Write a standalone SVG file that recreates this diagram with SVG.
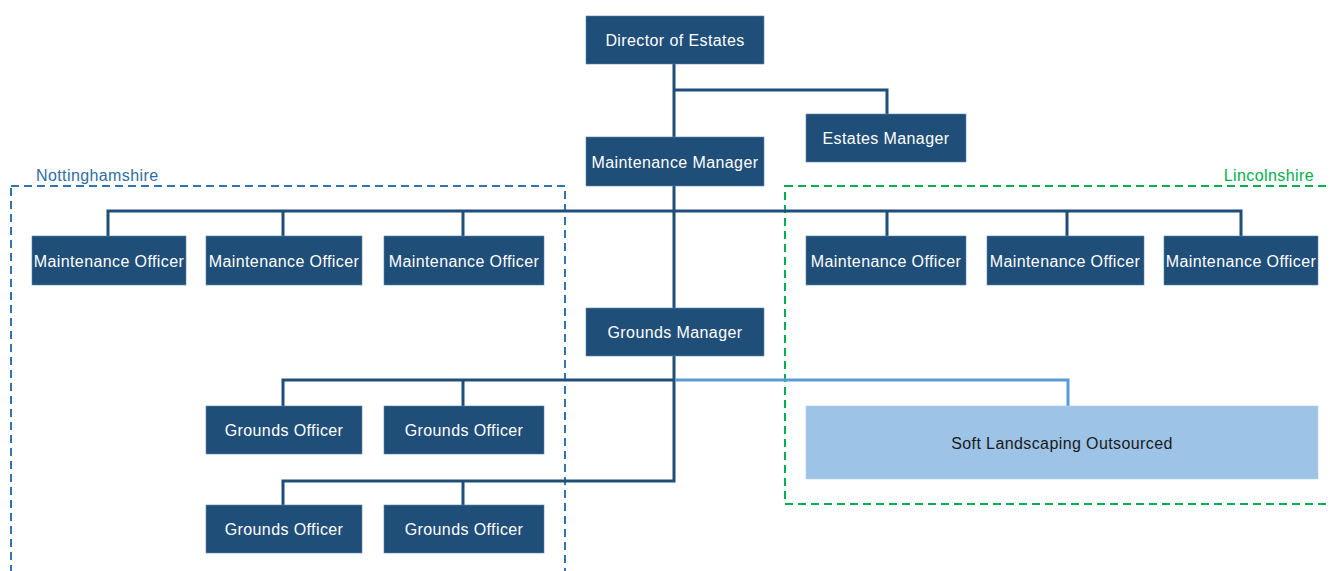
<svg xmlns="http://www.w3.org/2000/svg" width="1330" height="571" viewBox="0 0 1330 571">
<style>
.n{fill:#1f4e79;stroke:#5b87b5;stroke-width:0.6}
.t{font-family:"Liberation Sans",Arial,sans-serif;font-size:16px;letter-spacing:0.4px;fill:#ffffff;text-anchor:middle;dominant-baseline:central}
.c{fill:none;stroke:#1f4e79;stroke-width:3}
.cl{fill:none;stroke:#5b9bd5;stroke-width:3}
.lab{font-family:"Liberation Sans",Arial,sans-serif;font-size:16px;letter-spacing:0.4px}
</style>
<rect width="1330" height="571" fill="#ffffff"/>
<g id="regions">
<rect x="11" y="186" width="554" height="400" fill="none" stroke="#2e75b6" stroke-width="2" stroke-dasharray="8,5"/>
<text class="lab" x="36" y="181" fill="#2e6da4">Nottinghamshire</text>
<rect x="785" y="186" width="560" height="318" fill="none" stroke="#00b050" stroke-width="2" stroke-dasharray="8,5"/>
<text class="lab" x="1314" y="181" fill="#00b050" text-anchor="end">Lincolnshire</text>
</g>
<g id="connectors">
<path class="c" d="M674 64V137M674 90H887V114M674 186V308M108 236V211H1241V236M283 211V236M463 211V236M887 211V236M1067 211V236"/>
<path class="c" d="M674 356V481H283V505M463 481V505M674 380H283V406M463 380V406"/>
<path class="cl" d="M675 380H1068V406"/>
</g>
<g id="director"><rect class="n" x="586" y="16" width="178" height="48"/><text class="t" x="675" y="40">Director of Estates</text></g>
<g id="estates-manager"><rect class="n" x="806" y="114" width="160" height="48"/><text class="t" x="886" y="138">Estates Manager</text></g>
<g id="maintenance-manager"><rect class="n" x="586" y="137" width="178" height="49"/><text class="t" x="675" y="162">Maintenance Manager</text></g>
<g id="mo1"><rect class="n" x="32" y="236" width="154" height="49"/><text class="t" x="109" y="261">Maintenance Officer</text></g>
<g id="mo2"><rect class="n" x="206" y="236" width="156" height="49"/><text class="t" x="284" y="261">Maintenance Officer</text></g>
<g id="mo3"><rect class="n" x="384" y="236" width="160" height="49"/><text class="t" x="464" y="261">Maintenance Officer</text></g>
<g id="mo4"><rect class="n" x="806" y="236" width="160" height="49"/><text class="t" x="886" y="261">Maintenance Officer</text></g>
<g id="mo5"><rect class="n" x="987" y="236" width="157" height="49"/><text class="t" x="1065" y="261">Maintenance Officer</text></g>
<g id="mo6"><rect class="n" x="1164" y="236" width="154" height="49"/><text class="t" x="1241" y="261">Maintenance Officer</text></g>
<g id="grounds-manager"><rect class="n" x="586" y="308" width="178" height="48"/><text class="t" x="675" y="332">Grounds Manager</text></g>
<g id="go1"><rect class="n" x="206" y="406" width="156" height="48"/><text class="t" x="284" y="430">Grounds Officer</text></g>
<g id="go2"><rect class="n" x="384" y="406" width="160" height="48"/><text class="t" x="464" y="430">Grounds Officer</text></g>
<g id="go3"><rect class="n" x="206" y="505" width="156" height="48"/><text class="t" x="284" y="529">Grounds Officer</text></g>
<g id="go4"><rect class="n" x="384" y="505" width="160" height="48"/><text class="t" x="464" y="529">Grounds Officer</text></g>
<g id="soft-landscaping"><rect x="806" y="406" width="512" height="73" fill="#9dc3e6" stroke="#b4d0ec" stroke-width="0.6"/><text class="t" x="1062" y="443" style="fill:#1a1a1a">Soft Landscaping Outsourced</text></g>
</svg>
